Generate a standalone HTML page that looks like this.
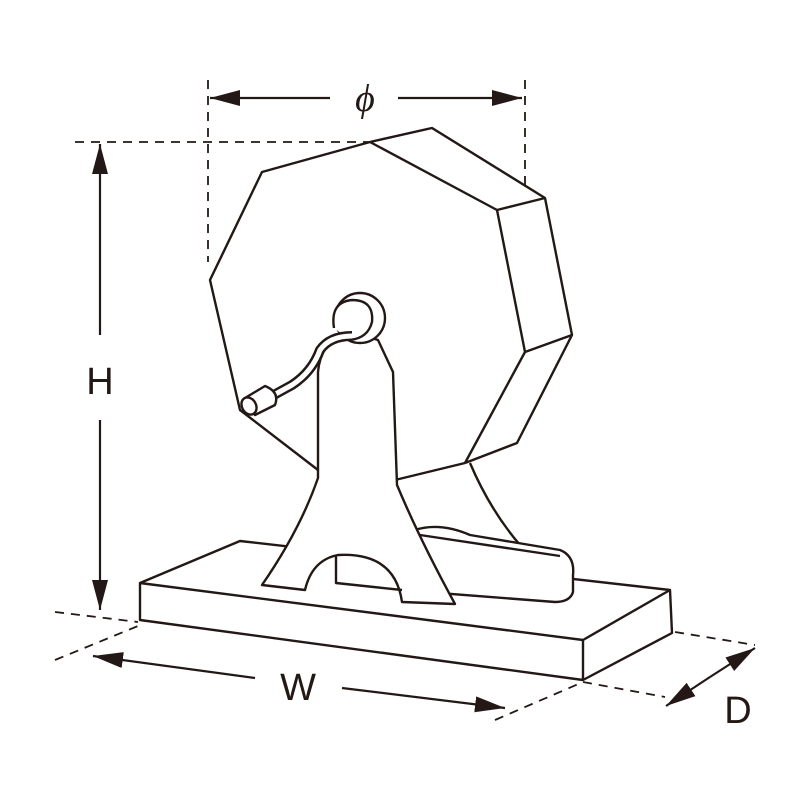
<!DOCTYPE html>
<html><head><style>body{margin:0;background:#fff}svg{display:block}</style></head><body>
<svg width="800" height="800" viewBox="0 0 800 800" xmlns="http://www.w3.org/2000/svg">
<defs><marker id="a" viewBox="0 0 30 16" refX="30" refY="8" markerWidth="30" markerHeight="16" orient="auto" markerUnits="userSpaceOnUse"><path d="M0,0L30,8L0,16z" fill="#231815"/></marker></defs>
<g fill="none" stroke="#231815" stroke-width="2.4" stroke-linejoin="round">
<g stroke-dasharray="9,7" stroke-width="1.8">
<line x1="75" y1="142" x2="370" y2="142"/>
<line x1="208" y1="80" x2="208" y2="262"/>
<line x1="525" y1="80" x2="525" y2="345"/>
<line x1="55" y1="612" x2="138" y2="622"/>
<line x1="55" y1="660" x2="138" y2="626"/>
<line x1="495" y1="720" x2="583" y2="682"/>
<line x1="583" y1="682" x2="665" y2="697"/>
<line x1="675" y1="632" x2="755" y2="645"/>
</g>
<g stroke-width="2.2">
<line x1="330" y1="98" x2="210" y2="98" marker-end="url(#a)" />
<line x1="398" y1="98" x2="522" y2="98" marker-end="url(#a)" />
<line x1="100" y1="335" x2="100" y2="144" marker-end="url(#a)" />
<line x1="100" y1="420" x2="100" y2="610" marker-end="url(#a)" />
<line x1="255" y1="678" x2="93" y2="656" marker-end="url(#a)" />
<line x1="342" y1="688" x2="505" y2="708" marker-end="url(#a)" />
<line x1="710" y1="677" x2="755" y2="648" marker-end="url(#a)" />
<line x1="710" y1="677" x2="666" y2="706" marker-end="url(#a)" />
</g>
<path d="M370,142 L432,128 L545,198 L572,335 L517,443 L465,463" fill="#fff"/>
<path d="M370,142 L497,210 L525,352 L465,463 M497,210 L545,198 M525,352 L572,335" />
<path d="M370,142 L262,172 L210,280 L240,410 L318,470" />
<path d="M465,463 L395,480" />
<path d="M470,463 Q490,510 520,545" />
<path d="M140,583 L240,541 L670,590 L672,633 L583,680 L140,620 Z" fill="#fff"/>
<path d="M140,583 L583,640 L670,590 M583,640 L583,680" />
<path d="M415,530 Q440,522 470,535 L560,550 Q575,556 573,575 L573,592 Q570,602 555,602 L400,590 Z" fill="#fff"/>
<path d="M420,535 L560,556" />
<path d="M345,330 Q320,345 318,372 L318,478 Q300,530 262,585 L305,590 Q312,560 338,555 Q395,552 402,602 L455,604 Q420,540 397,485 L393,372 Q385,355 378,340 Z" fill="#fff"/>
<path d="M336,556 L336,583 L402,590" />
<circle cx="360" cy="318" r="25" fill="#fff"/>
<path d="M334,328 Q330,302 352,300 Q374,300 372,322 Q368,338 350,340" fill="#fff"/>
<path d="M352,336 Q330,336 320,350 Q312,372 292,385 L272,396" stroke-width="10"/>
<path d="M352,336 Q330,336 320,350 Q312,372 292,385 L272,396" stroke="#fff" stroke-width="5"/>
<path d="M245,398 L265,386 Q280,392 275,405 L255,415 Z" fill="#fff"/>
<ellipse cx="249" cy="406" rx="7" ry="9" transform="rotate(-30 249 406)" fill="#fff"/>
</g>
<g font-family="Liberation Sans, sans-serif" fill="#231815" font-size="38" text-anchor="middle">
<text x="365" y="111" font-style="italic" font-family="Liberation Serif, serif">ϕ</text>
<text x="100" y="394">H</text>
<text x="298" y="700">W</text>
<text x="738" y="723">D</text>
</g>
</svg>
</body></html>
